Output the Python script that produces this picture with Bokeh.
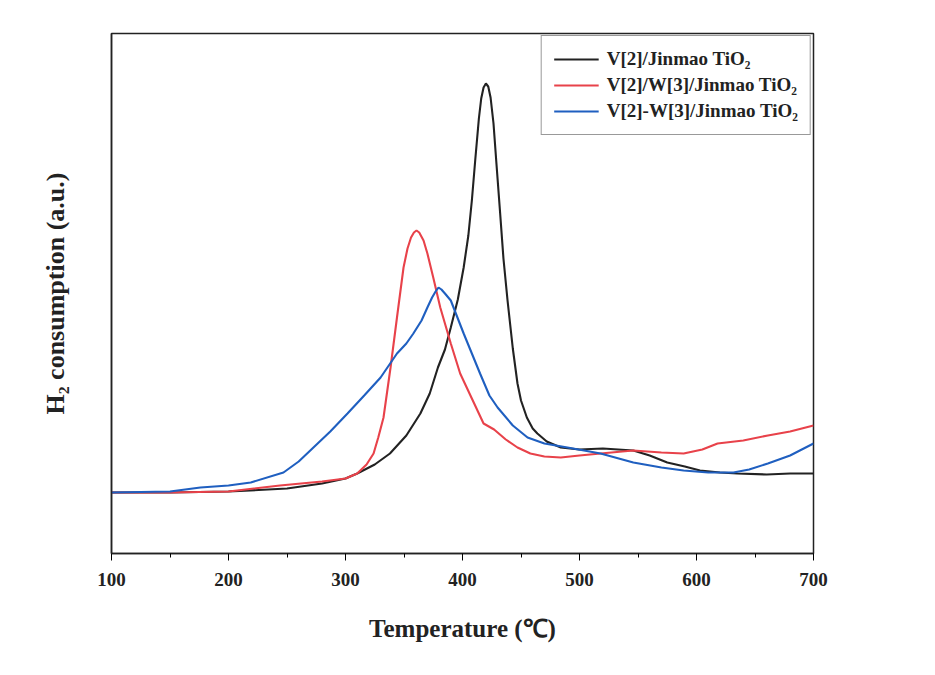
from bokeh.plotting import figure
from bokeh.models import Range1d, Legend, LegendItem, FixedTicker
from bokeh.embed import file_html
from bokeh.resources import INLINE

# Temperature (°C) and H2 consumption (a.u.)
t_black = [100, 150, 200, 250, 280, 300, 310, 325, 338, 352, 364, 372, 379, 385, 390, 396, 401, 405, 408,
           411, 414, 416, 418, 420, 422, 424, 426.5, 429, 432, 435, 438.5, 443, 447, 450, 455, 460,
           464, 472, 484, 500, 520, 546, 560, 575, 590, 603, 620, 635, 660, 680, 700]
y_black = [61, 61, 62, 65, 70, 75, 80, 89, 100, 118, 140, 160, 186, 204, 226, 254, 286, 318, 353,
           395, 435, 455, 466, 470, 467, 456, 430, 390, 343, 295, 253, 205, 170, 153, 136, 125,
           120, 112, 106, 104, 105, 103, 98, 91, 87, 83, 81, 80, 79, 80, 80]

t_red = [100, 150, 200, 244, 280, 300, 310, 318, 324, 328, 332.5, 338.5, 344, 349.6, 353, 356, 358.5,
         360.7, 363, 366.7, 370, 375, 381, 390, 398, 408, 418, 427, 437, 447, 458, 470, 484, 500,
         518, 546, 570, 589, 605, 618, 640, 661, 680, 700]
y_red = [61, 61, 62, 68, 72, 75, 80, 89, 100, 116, 136, 186, 236, 286, 305, 316, 321,
         323, 321, 313, 300, 276, 246, 210, 180, 155, 130, 124, 114, 106, 100, 97, 96, 98,
         100, 103, 101, 100, 104, 110, 113, 118, 122, 128]

t_blue = [100, 150, 176, 200, 219, 247, 260, 272.6, 287, 301.7, 316, 330, 344, 352, 358, 365, 370,
          374, 377, 379.5, 382, 385, 390, 395, 401, 408, 415, 423, 430, 443, 455.6, 470, 489.7,
          518, 546, 570, 589, 610, 631.6, 645, 661, 680, 700]
y_blue = [61, 62, 66, 68, 71, 81, 92, 106, 122, 140, 158, 176, 200, 210, 220, 233, 246,
          256, 262, 266, 264, 260, 253, 238, 220, 200, 180, 158, 146, 128, 116, 110, 106,
          100, 91, 86, 83, 81, 81, 84, 90, 98, 110]

x_ticks = [100, 200, 300, 400, 500, 600, 700]
x_minor = [150, 250, 350, 450, 550, 650]

labels = ["V[2]/Jinmao TiO\u2082", "V[2]/W[3]/Jinmao TiO\u2082", "V[2]-W[3]/Jinmao TiO\u2082"]
colors = ["#222222", "#e8424a", "#1f5fc0"]

FONT = "Liberation Serif"

p = figure(width=910, height=660, output_backend="svg", toolbar_location=None,
           x_range=Range1d(100, 700), y_range=Range1d(0, 520),
           min_border_left=111, min_border_right=97, min_border_top=33, min_border_bottom=107)

r1 = p.line(t_black, y_black, line_color=colors[0], line_width=2.1)
r2 = p.line(t_red, y_red, line_color=colors[1], line_width=2.1)
r3 = p.line(t_blue, y_blue, line_color=colors[2], line_width=2.1)

p.grid.visible = False
p.outline_line_color = "#222222"
p.outline_line_width = 1.5

p.xaxis.ticker = FixedTicker(ticks=x_ticks, minor_ticks=x_minor)
p.xaxis.major_tick_out = 7
p.xaxis.major_tick_in = 0
p.xaxis.minor_tick_out = 4
p.xaxis.minor_tick_in = 0
p.xaxis.axis_line_color = "#222222"
p.xaxis.axis_line_width = 1.5
p.xaxis.major_label_text_font = FONT
p.xaxis.major_label_text_font_style = "bold"
p.xaxis.major_label_text_font_size = "19px"
p.xaxis.major_label_text_color = "#222222"
p.xaxis.major_label_standoff = 12
p.xaxis.axis_label = "Temperature (\u2103)"
p.xaxis.axis_label_text_font = FONT
p.xaxis.axis_label_text_font_style = "bold"
p.xaxis.axis_label_text_font_size = "25px"
p.xaxis.axis_label_text_color = "#222222"
p.xaxis.axis_label_standoff = 26

p.yaxis.ticker = FixedTicker(ticks=[])
p.yaxis.axis_line_color = "#222222"
p.yaxis.axis_line_width = 1.5
p.yaxis.axis_label = "H\u2082 consumption (a.u.)"
p.yaxis.axis_label_text_font = FONT
p.yaxis.axis_label_text_font_style = "bold"
p.yaxis.axis_label_text_font_size = "26px"
p.yaxis.axis_label_text_color = "#222222"
p.yaxis.axis_label_standoff = 42

legend = Legend(items=[LegendItem(label=labels[0], renderers=[r1]),
                       LegendItem(label=labels[1], renderers=[r2]),
                       LegendItem(label=labels[2], renderers=[r3])],
                location="top_right")
legend.margin = 2
legend.padding = 12
legend.spacing = 4
legend.glyph_width = 45
legend.label_text_font = FONT
legend.label_text_font_style = "bold"
legend.label_text_font_size = "19px"
legend.label_text_color = "#222222"
legend.border_line_color = "#333333"
legend.border_line_width = 1.2
legend.label_standoff = 8
p.add_layout(legend)

open("out.html", "w").write(file_html(p, INLINE))
